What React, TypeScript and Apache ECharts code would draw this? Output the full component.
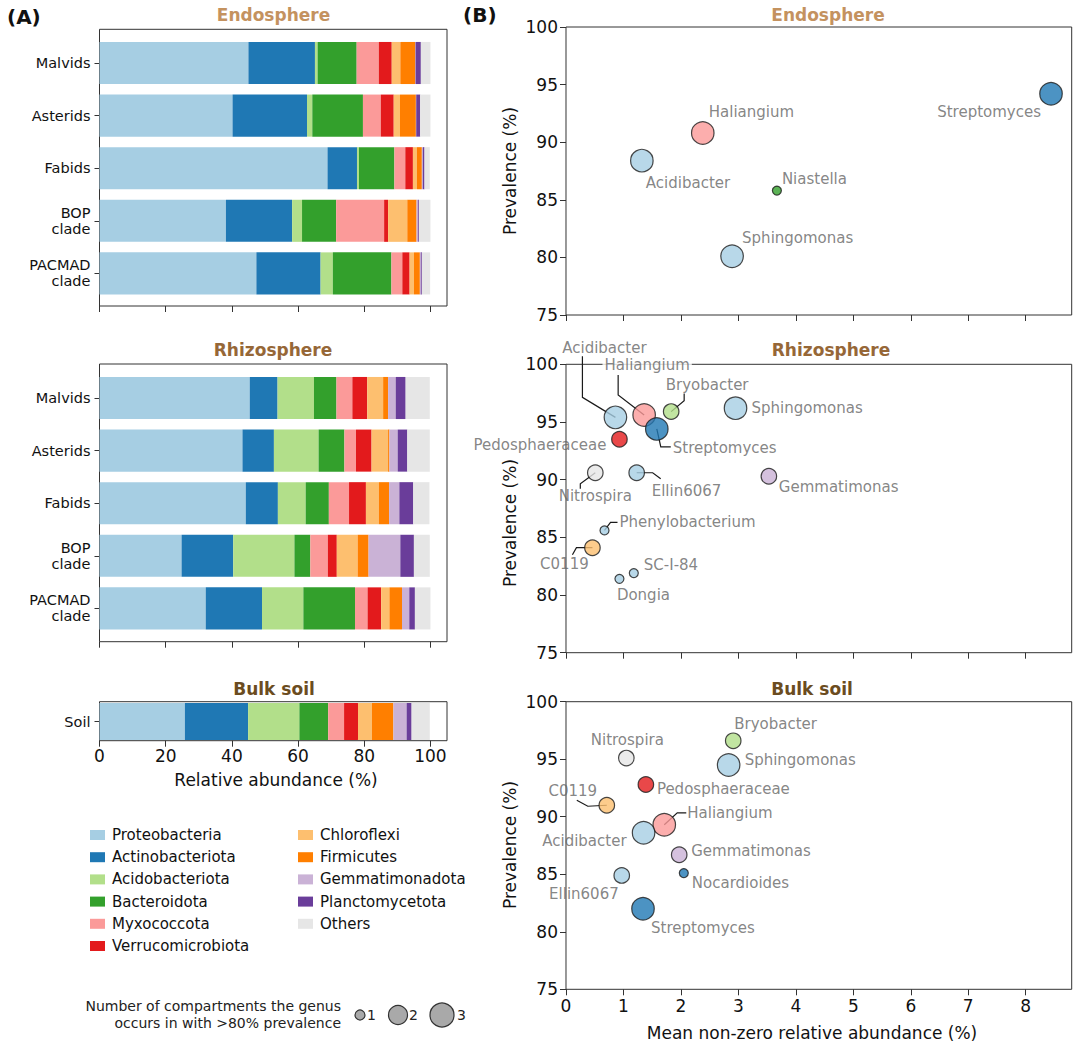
import React, { useEffect, useRef } from 'react';
import * as echarts from 'echarts';

const FONT = '"DejaVu Sans", sans-serif';

// ---- Phyla (stacked bar components) ----
const PHYLA = [
  'Proteobacteria', 'Actinobacteriota', 'Acidobacteriota', 'Bacteroidota', 'Myxococcota',
  'Verrucomicrobiota', 'Chloroflexi', 'Firmicutes', 'Gemmatimonadota', 'Planctomycetota', 'Others',
];
const PHYLUM_COLORS = [
  '#a6cee3', '#1f78b4', '#b2df8a', '#33a02c', '#fb9a99',
  '#e31a1c', '#fdbf6f', '#ff7f00', '#cab2d6', '#6a3d9a', '#e6e6e6',
];

const HOSTS = ['Malvids', 'Asterids', 'Fabids', 'BOP\nclade', 'PACMAD\nclade'];
const SOIL = ['Soil'];

// Relative abundance (%) of each phylum, in PHYLA order
const endoMalvids = [45.0, 20.1, 0.8, 11.8, 6.7, 3.9, 2.6, 4.5, 0.1, 1.6, 2.9];
const endoAsterids = [40.2, 22.5, 1.6, 15.3, 5.4, 3.9, 1.9, 4.8, 0.1, 1.2, 3.1];
const endoFabids = [68.9, 8.9, 0.6, 10.7, 3.3, 2.3, 1.2, 1.5, 0.3, 0.5, 1.6];
const endoBOP = [38.2, 20.0, 3.0, 10.3, 14.5, 1.2, 5.8, 2.8, 0.4, 0.3, 3.5];
const endoPACMAD = [47.4, 19.4, 3.7, 17.7, 3.3, 2.2, 1.3, 1.8, 0.3, 0.3, 2.5];

const rhizoMalvids = [45.4, 8.4, 11.0, 6.8, 4.8, 4.5, 4.8, 1.5, 2.3, 3.0, 7.3];
const rhizoAsterids = [43.2, 9.5, 13.5, 7.8, 3.5, 4.7, 5.0, 0.4, 2.5, 2.9, 6.8];
const rhizoFabids = [44.2, 9.7, 8.4, 7.0, 6.1, 5.1, 3.9, 3.1, 3.1, 4.2, 4.9];
const rhizoBOP = [24.8, 15.6, 18.5, 4.8, 5.3, 2.7, 6.3, 3.3, 9.6, 4.1, 4.8];
const rhizoPACMAD = [32.1, 17.0, 12.5, 15.6, 3.8, 4.1, 2.5, 3.8, 2.2, 1.7, 4.7];

const bulkSoil = [25.8, 19.1, 15.5, 8.7, 4.8, 4.2, 4.2, 6.5, 4.0, 1.5, 5.5];

const endoRows = [endoMalvids, endoAsterids, endoFabids, endoBOP, endoPACMAD];
const rhizoRows = [rhizoMalvids, rhizoAsterids, rhizoFabids, rhizoBOP, rhizoPACMAD];
const bulkRows = [bulkSoil];

const BAR_TICKS = [0, 20, 40, 60, 80, 100];

// ---- Core genera (scatter) ----
const GENUS_PHYLUM: Record<string, string> = {
  Acidibacter: 'Proteobacteria', Sphingomonas: 'Proteobacteria', Ellin6067: 'Proteobacteria',
  Phenylobacterium: 'Proteobacteria', 'SC-I-84': 'Proteobacteria', Dongia: 'Proteobacteria',
  Streptomyces: 'Actinobacteriota', Nocardioides: 'Actinobacteriota',
  Bryobacter: 'Acidobacteriota', Niastella: 'Bacteroidota', Haliangium: 'Myxococcota',
  Pedosphaeraceae: 'Verrucomicrobiota', C0119: 'Chloroflexi', Gemmatimonas: 'Gemmatimonadota',
  Nitrospira: 'Others',
};
// Number of compartments the genus occurs in with >80% prevalence
const GENUS_COMPARTMENTS: Record<string, number> = {
  Acidibacter: 3, Haliangium: 3, Sphingomonas: 3, Streptomyces: 3,
  Bryobacter: 2, Pedosphaeraceae: 2, Nitrospira: 2, Ellin6067: 2, Gemmatimonas: 2, C0119: 2,
  Niastella: 1, Phenylobacterium: 1, 'SC-I-84': 1, Dongia: 1, Nocardioides: 1,
};

const endoGenera = ['Acidibacter', 'Haliangium', 'Niastella', 'Sphingomonas', 'Streptomyces'];
const endoAbundance = [1.32, 2.38, 3.67, 2.89, 8.44];
const endoPrevalence = [88.4, 90.8, 85.8, 80.1, 94.2];

const rhizoGenera = [
  'Acidibacter', 'Haliangium', 'Bryobacter', 'Streptomyces', 'Sphingomonas', 'Pedosphaeraceae',
  'Nitrospira', 'Ellin6067', 'Gemmatimonas', 'Phenylobacterium', 'C0119', 'SC-I-84', 'Dongia',
];
const rhizoAbundance = [0.86, 1.36, 1.83, 1.58, 2.95, 0.93, 0.51, 1.23, 3.53, 0.67, 0.46, 1.18, 0.93];
const rhizoPrevalence = [95.4, 95.6, 95.9, 94.4, 96.2, 93.5, 90.6, 90.6, 90.3, 85.6, 84.1, 81.9, 81.4];

const bulkGenera = [
  'Bryobacter', 'Sphingomonas', 'Nitrospira', 'Pedosphaeraceae', 'C0119', 'Haliangium',
  'Acidibacter', 'Gemmatimonas', 'Nocardioides', 'Ellin6067', 'Streptomyces',
];
const bulkAbundance = [2.91, 2.83, 1.05, 1.39, 0.71, 1.71, 1.35, 1.97, 2.05, 0.97, 1.34];
const bulkPrevalence = [96.6, 94.5, 95.1, 92.8, 91.0, 89.3, 88.6, 86.7, 85.1, 84.9, 82.0];

const SCATTER_X_TICKS = [0, 1, 2, 3, 4, 5, 6, 7, 8];

// ---- Label placement (pixel offsets from the point centre) ----
type Place = { align: 'left' | 'right' | 'center'; dx: number; dy: number; bg?: boolean };
const endoPlace: Record<string, Place> = {
  Streptomyces: { align: 'right', dx: -10, dy: 18 },
  Haliangium: { align: 'left', dx: 6, dy: -21 },
  Acidibacter: { align: 'left', dx: 4, dy: 22 },
  Niastella: { align: 'left', dx: 5, dy: -12 },
  Sphingomonas: { align: 'left', dx: 10, dy: -18 },
};
const rhizoPlace: Record<string, Place> = {
  Acidibacter: { align: 'center', dx: -11, dy: -69 },
  Haliangium: { align: 'center', dx: 3, dy: -50, bg: true },
  Bryobacter: { align: 'center', dx: 36, dy: -27 },
  Streptomyces: { align: 'left', dx: 16, dy: 19 },
  Sphingomonas: { align: 'left', dx: 16, dy: 0 },
  Pedosphaeraceae: { align: 'right', dx: -13, dy: 6 },
  Nitrospira: { align: 'center', dx: 0, dy: 23 },
  Ellin6067: { align: 'left', dx: 15, dy: 18 },
  Gemmatimonas: { align: 'left', dx: 10, dy: 11 },
  Phenylobacterium: { align: 'left', dx: 15, dy: -8 },
  C0119: { align: 'center', dx: -28, dy: 16 },
  'SC-I-84': { align: 'left', dx: 10, dy: -8 },
  Dongia: { align: 'center', dx: 24, dy: 16 },
};
const bulkPlace: Record<string, Place> = {
  Bryobacter: { align: 'left', dx: 1, dy: -17 },
  Sphingomonas: { align: 'left', dx: 16, dy: -5 },
  Nitrospira: { align: 'center', dx: 1, dy: -18 },
  Pedosphaeraceae: { align: 'left', dx: 11, dy: 4 },
  C0119: { align: 'center', dx: -34, dy: -14 },
  Haliangium: { align: 'left', dx: 23, dy: -12 },
  Acidibacter: { align: 'right', dx: -17, dy: 8 },
  Gemmatimonas: { align: 'left', dx: 12, dy: -4 },
  Nocardioides: { align: 'left', dx: 8, dy: 10 },
  Ellin6067: { align: 'right', dx: -3, dy: 19 },
  Streptomyces: { align: 'left', dx: 8, dy: 19 },
};

// Leader lines: bend points relative to the point centre
const rhizoLeaders: Record<string, number[][]> = {
  Acidibacter: [[-33, -20], [-33, -61]],
  Haliangium: [[-26, -20], [-26, -40]],
  Bryobacter: [[13, -11], [13, -18]],
  Streptomyces: [[4, 18], [14, 18]],
  Nitrospira: [[-15, 11], [-15, 16]],
  Ellin6067: [[16, 0], [24, 6]],
  Phenylobacterium: [[6, -8], [13, -8]],
  C0119: [[-16, 0], [-20, 7]],
};
const bulkLeaders: Record<string, number[][]> = {
  C0119: [[-19, 1], [-30, -5]],
  Haliangium: [[13, -12], [22, -12]],
};

const SYMBOL_PX: Record<number, number> = { 1: 9, 2: 15.5, 3: 22.5 };

const TITLE_COLORS = { endo: '#c4925f', rhizo: '#966737', bulk: '#6b4c20' };

function colorOf(genus: string) {
  return PHYLUM_COLORS[PHYLA.indexOf(GENUS_PHYLUM[genus])];
}

function barSeries(axisIdx: number, rows: number[][], stack: string) {
  return PHYLA.map((p, j) => ({
    type: 'bar',
    name: p,
    stack,
    xAxisIndex: axisIdx,
    yAxisIndex: axisIdx,
    barWidth: '80%',
    data: rows.map((r) => r[j]),
    itemStyle: { color: PHYLUM_COLORS[j] },
    emphasis: { disabled: true },
  }));
}

function scatterSeries(
  axisIdx: number, genera: string[], xs: number[], ys: number[], place: Record<string, Place>,
) {
  return {
    type: 'scatter',
    name: 'genera-' + axisIdx,
    xAxisIndex: axisIdx,
    yAxisIndex: axisIdx,
    z: 3,
    emphasis: { disabled: true },
    data: genera.map((g, i) => {
      const pl = place[g];
      return {
        name: g,
        value: [xs[i], ys[i]],
        symbolSize: SYMBOL_PX[GENUS_COMPARTMENTS[g]],
        itemStyle: { color: colorOf(g), borderColor: '#1a1a1a', borderWidth: 1.2 },
        label: {
          show: true,
          formatter: '{b}',
          position: 'inside',
          align: pl.align,
          verticalAlign: 'middle',
          offset: [pl.dx, pl.dy],
          color: '#666666',
          fontSize: 15,
          fontFamily: FONT,
          backgroundColor: pl.bg ? '#ffffff' : 'transparent',
          padding: pl.bg ? [0, 2] : 0,
        },
      };
    }),
  };
}

function leaderSeries(
  axisIdx: number, genera: string[], xs: number[], ys: number[], leaders: Record<string, number[][]>,
) {
  const items = genera
    .map((g, i) => ({ g, v: [xs[i], ys[i]] }))
    .filter((d) => leaders[d.g]);
  return {
    type: 'custom',
    xAxisIndex: axisIdx,
    yAxisIndex: axisIdx,
    clip: false,
    silent: true,
    z: 1,
    data: items.map((d) => d.v),
    renderItem: (params: any, api: any) => {
      const p = api.coord([api.value(0), api.value(1)]);
      const path = leaders[items[params.dataIndex].g];
      return {
        type: 'polyline',
        shape: { points: [p, ...path.map((o) => [p[0] + o[0], p[1] + o[1]])] },
        style: { stroke: '#1a1a1a', lineWidth: 1.2, fill: null },
      };
    },
  };
}

const txt = (x: number, y: number, s: string, size: number, o: any = {}) => ({
  type: 'text',
  x,
  y,
  rotation: o.rotation || 0,
  silent: true,
  style: {
    text: s,
    fill: o.color || '#111111',
    font: `${o.weight || 'normal'} ${size}px ${FONT}`,
    align: o.align || 'center',
    verticalAlign: 'middle',
  },
});

export default function App() {
  const ref = useRef<HTMLDivElement>(null);

  useEffect(() => {
    if (!ref.current) return;
    const chart = echarts.init(ref.current, undefined, { renderer: 'svg' });

    const barLeft = 99.5;
    const barWidth = 347.5;
    const scLeft = 566;
    const scWidth = 505.7;

    const grid = [
      { left: barLeft, top: 36.7, width: barWidth, height: 263 },
      { left: barLeft, top: 29.3, width: barWidth, height: 276.7, show: true, borderColor: '#333', borderWidth: 1 },
      { left: barLeft, top: 371.7, width: barWidth, height: 263 },
      { left: barLeft, top: 364, width: barWidth, height: 277.7, show: true, borderColor: '#333', borderWidth: 1 },
      { left: barLeft, top: 698.4, width: barWidth, height: 46.2 },
      { left: barLeft, top: 701.7, width: barWidth, height: 39, show: true, borderColor: '#333', borderWidth: 1 },
      { left: scLeft, top: 27, width: scWidth, height: 288, show: true, borderColor: '#333', borderWidth: 1 },
      { left: scLeft, top: 364.3, width: scWidth, height: 288.4, show: true, borderColor: '#333', borderWidth: 1 },
      { left: scLeft, top: 701.7, width: scWidth, height: 287.6, show: true, borderColor: '#333', borderWidth: 1 },
    ];

    const hiddenValue = (g: number, min: number, max: number) => ({
      type: 'value', gridIndex: g, min, max, show: false,
    });
    const tickStyle = { show: true, length: 6, lineStyle: { color: '#333', width: 1 } };
    const tickLabel = { fontSize: 17, color: '#111', fontFamily: FONT };

    const barFrameX = (g: number, labels: boolean) => ({
      type: 'value', gridIndex: g, min: 0, max: 105,
      axisLine: { show: false },
      splitLine: { show: false },
      axisTick: { ...tickStyle, customValues: BAR_TICKS },
      axisLabel: labels ? { ...tickLabel, margin: 7, customValues: BAR_TICKS } : { show: false },
    });
    const scatterX = (g: number, labels: boolean) => ({
      type: 'value', gridIndex: g, min: 0, max: 8.8,
      axisLine: { show: false },
      splitLine: { show: false },
      axisTick: { ...tickStyle, customValues: SCATTER_X_TICKS },
      axisLabel: labels ? { ...tickLabel, margin: 8, customValues: SCATTER_X_TICKS } : { show: false },
    });
    const categoryY = (g: number, cats: string[]) => ({
      type: 'category', gridIndex: g, data: cats, inverse: true,
      axisLine: { show: false },
      axisTick: { show: true, alignWithLabel: true, length: 5, lineStyle: { color: '#333' } },
      axisLabel: { fontSize: 14.5, color: '#111', fontFamily: FONT, margin: 9, lineHeight: 16, align: 'right' },
    });
    const scatterY = (g: number) => ({
      type: 'value', gridIndex: g, min: 75, max: 100, interval: 5,
      axisLine: { show: false },
      splitLine: { show: false },
      axisTick: tickStyle,
      axisLabel: { ...tickLabel, margin: 8 },
    });

    const xAxis = [
      hiddenValue(0, 0, 105), barFrameX(1, false),
      hiddenValue(2, 0, 105), barFrameX(3, false),
      hiddenValue(4, 0, 105), barFrameX(5, true),
      scatterX(6, false), scatterX(7, false), scatterX(8, true),
    ];
    const yAxis = [
      categoryY(0, HOSTS), hiddenValue(1, 0, 1),
      categoryY(2, HOSTS), hiddenValue(3, 0, 1),
      categoryY(4, SOIL), hiddenValue(5, 0, 1),
      scatterY(6), scatterY(7), scatterY(8),
    ];

    const series: any[] = [
      ...barSeries(0, endoRows, 'endo'),
      ...barSeries(2, rhizoRows, 'rhizo'),
      ...barSeries(4, bulkRows, 'bulk'),
      leaderSeries(7, rhizoGenera, rhizoAbundance, rhizoPrevalence, rhizoLeaders),
      leaderSeries(8, bulkGenera, bulkAbundance, bulkPrevalence, bulkLeaders),
      scatterSeries(6, endoGenera, endoAbundance, endoPrevalence, endoPlace),
      scatterSeries(7, rhizoGenera, rhizoAbundance, rhizoPrevalence, rhizoPlace),
      scatterSeries(8, bulkGenera, bulkAbundance, bulkPrevalence, bulkPlace),
    ];

    const legendBase = {
      orient: 'vertical',
      top: 827,
      padding: 0,
      icon: 'rect',
      itemWidth: 15,
      itemHeight: 10,
      itemGap: 6.2,
      selectedMode: false,
      textStyle: { fontSize: 15, color: '#111', fontFamily: FONT, lineHeight: 16, padding: [0, 0, 0, 2] },
    };

    const sizeKey = [
      { n: 1, cx: 360, d: 10, tx: 371.5 },
      { n: 2, cx: 398, d: 19, tx: 413.5 },
      { n: 3, cx: 442, d: 24, tx: 461.5 },
    ];

    const graphic: any[] = [
      txt(7, 17, '(A)', 20, { weight: 'bold', align: 'left' }),
      txt(463, 15, '(B)', 20, { weight: 'bold', align: 'left' }),
      txt(273.5, 15, 'Endosphere', 17, { weight: 'bold', color: TITLE_COLORS.endo }),
      txt(273, 350, 'Rhizosphere', 17, { weight: 'bold', color: TITLE_COLORS.rhizo }),
      txt(274, 689, 'Bulk soil', 17, { weight: 'bold', color: TITLE_COLORS.bulk }),
      txt(828, 15, 'Endosphere', 17, { weight: 'bold', color: TITLE_COLORS.endo }),
      txt(831, 350, 'Rhizosphere', 17, { weight: 'bold', color: TITLE_COLORS.rhizo }),
      txt(812, 689, 'Bulk soil', 17, { weight: 'bold', color: TITLE_COLORS.bulk }),
      txt(276, 780, 'Relative abundance (%)', 17),
      txt(812, 1033, 'Mean non-zero relative abundance (%)', 17),
      txt(510, 171, 'Prevalence (%)', 17, { rotation: Math.PI / 2 }),
      txt(510, 523, 'Prevalence (%)', 17, { rotation: Math.PI / 2 }),
      txt(510, 845, 'Prevalence (%)', 17, { rotation: Math.PI / 2 }),
      txt(341, 1006, 'Number of compartments the genus', 14, { align: 'right', color: '#222' }),
      txt(341, 1023, 'occurs in with >80% prevalence', 14, { align: 'right', color: '#222' }),
      ...sizeKey.map((k) => ({
        type: 'circle',
        silent: true,
        shape: { cx: k.cx, cy: 1015, r: k.d / 2 },
        style: { fill: '#a9a9a9', stroke: '#333', lineWidth: 1.2 },
      })),
      ...sizeKey.map((k) => txt(k.tx, 1015, String(k.n), 14, { color: '#222' })),
    ];

    chart.setOption({
      animation: false,
      backgroundColor: '#ffffff',
      textStyle: { fontFamily: FONT },
      grid,
      xAxis,
      yAxis,
      legend: [
        { ...legendBase, left: 90, data: PHYLA.slice(0, 6) },
        { ...legendBase, left: 298, data: PHYLA.slice(6) },
      ],
      graphic,
      series,
    });

    return () => chart.dispose();
  }, []);

  return (
    <div
      ref={ref}
      style={{ position: 'absolute', left: 0, top: 0, width: 1080, height: 1051, background: '#fff' }}
    />
  );
}
